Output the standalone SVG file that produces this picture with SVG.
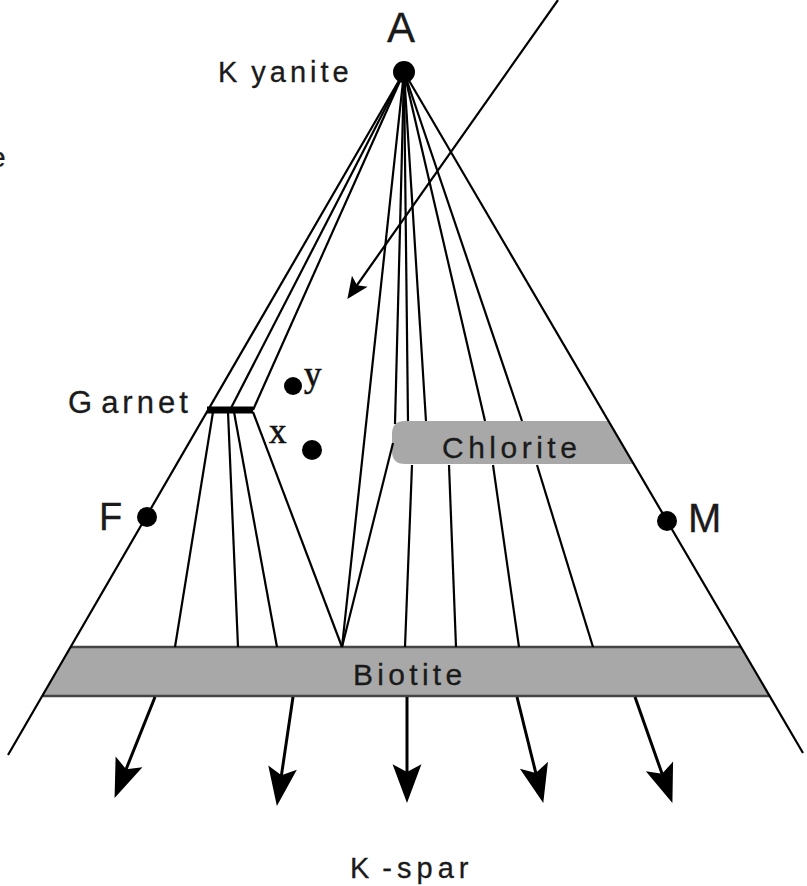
<svg xmlns="http://www.w3.org/2000/svg" width="807" height="886" viewBox="0 0 807 886">
<style>
.t{font-family:"Liberation Sans",Arial,sans-serif;fill:#1a1a1a;stroke:#1a1a1a;stroke-width:0.3}
.s{font-family:"Liberation Serif","Times New Roman",serif;fill:#111;stroke:#111;stroke-width:0.6}
.ln{stroke:#000;stroke-width:2.2;fill:none}
.ar{stroke:#000;stroke-width:3;fill:none;marker-end:url(#big)}
.band{fill:#a8a8a8;stroke:none}
.edge{stroke:#444;stroke-width:2.5;fill:none}
.dot{fill:#000}
</style>
<defs>
<marker id="big" markerUnits="userSpaceOnUse" orient="auto" refX="0" refY="0" markerWidth="50" markerHeight="50" viewBox="-30 -15 45 30" overflow="visible">
<path d="M10,0 L-25,-13 L-18,0 L-25,13 Z" fill="#000"/>
</marker>
<marker id="small" markerUnits="userSpaceOnUse" orient="auto" refX="0" refY="0" markerWidth="30" markerHeight="30" viewBox="-15 -10 25 20" overflow="visible">
<path d="M6,0 L-12,-8 L-8,0 L-12,8 Z" fill="#000"/>
</marker>
</defs>
<rect width="807" height="886" fill="#fff"/>

<g id="biotite">
<polygon class="band" points="71,647 741,647 770,696 43,696"/>
<line class="edge" x1="71" y1="647" x2="741" y2="647"/>
<line class="edge" x1="43" y1="696" x2="770" y2="696"/>
<text class="t" x="353" y="685" font-size="30" letter-spacing="4.3">Biotite</text>
</g>

<g id="chlorite">
<path class="band" d="M405,421 L608.5,421 L633.7,464 L405,464 Q392,464 392,451 L392,434 Q392,421 405,421 Z" stroke="#555" stroke-width="2"/>
<text class="t" x="442" y="458" font-size="30" letter-spacing="4.5">Chlorite</text>
</g>

<g id="connectors">
<line class="ln" x1="404" y1="72" x2="8" y2="755"/>
<line class="ln" x1="404" y1="72" x2="803" y2="753"/>
<line class="ln" x1="404" y1="72" x2="230" y2="410"/>
<line class="ln" x1="404" y1="72" x2="253" y2="410"/>
<line class="ln" x1="213" y1="412" x2="175" y2="647"/>
<line class="ln" x1="228" y1="412" x2="238" y2="647"/>
<line class="ln" x1="234" y1="412" x2="277" y2="647"/>
<line class="ln" x1="253" y1="412" x2="342" y2="647"/>
<line class="ln" x1="404" y1="72" x2="342" y2="647"/>
<line class="ln" x1="342" y1="647" x2="393" y2="443"/>
<line class="ln" x1="404" y1="72" x2="395" y2="424"/>
<line class="ln" x1="404" y1="72" x2="408" y2="421"/>
<line class="ln" x1="404" y1="72" x2="426" y2="421"/>
<line class="ln" x1="404" y1="72" x2="485" y2="421"/>
<line class="ln" x1="404" y1="72" x2="522" y2="421"/>
<line class="ln" x1="412" y1="465" x2="405" y2="647"/>
<line class="ln" x1="449" y1="465" x2="456" y2="647"/>
<line class="ln" x1="493" y1="465" x2="519" y2="647"/>
<line class="ln" x1="537" y1="465" x2="593" y2="647"/>
<line class="ar" x1="155" y1="697" x2="118.7" y2="787.7"/>
<line class="ar" x1="293" y1="697" x2="278.5" y2="795.1"/>
<line class="ar" x1="407" y1="697" x2="407" y2="792"/>
<line class="ar" x1="517" y1="697" x2="540.6" y2="792.3"/>
<line class="ar" x1="635" y1="697" x2="668.7" y2="792.6"/>
<line x1="558" y1="0" x2="351.5" y2="293" stroke="#000" stroke-width="2.2" marker-end="url(#small)"/>
</g>

<g id="garnet">
<line x1="207" y1="410" x2="253" y2="410" stroke="#000" stroke-width="7"/>
<text class="t" x="68" y="413" font-size="31" letter-spacing="4"><tspan>G</tspan><tspan dx="5">arnet</tspan></text>
</g>

<g id="kyanite">
<circle class="dot" cx="404" cy="72" r="11"/>
<text class="t" x="401" y="42" font-size="42" text-anchor="middle">A</text>
<text class="t" x="218" y="82" font-size="29" letter-spacing="4"><tspan>K</tspan><tspan dx="10">yanite</tspan></text>
</g>

<g id="F">
<circle class="dot" cx="147" cy="517" r="10"/>
<text class="t" x="99" y="530" font-size="38">F</text>
</g>

<g id="M">
<circle class="dot" cx="667" cy="521" r="10"/>
<text class="t" x="688" y="532" font-size="40">M</text>
</g>

<g id="y">
<circle class="dot" cx="293" cy="386" r="9"/>
<text class="s" x="304" y="386" font-size="35">y</text>
</g>

<g id="x">
<circle class="dot" cx="312" cy="450" r="10"/>
<text class="s" x="269" y="443" font-size="35">x</text>
</g>

<g id="kspar">
<text class="t" x="350" y="878" font-size="29" letter-spacing="5"><tspan>K</tspan><tspan dx="8">-spar</tspan></text>
</g>

<text class="t" x="-10" y="167" font-size="28">e</text>
</svg>
